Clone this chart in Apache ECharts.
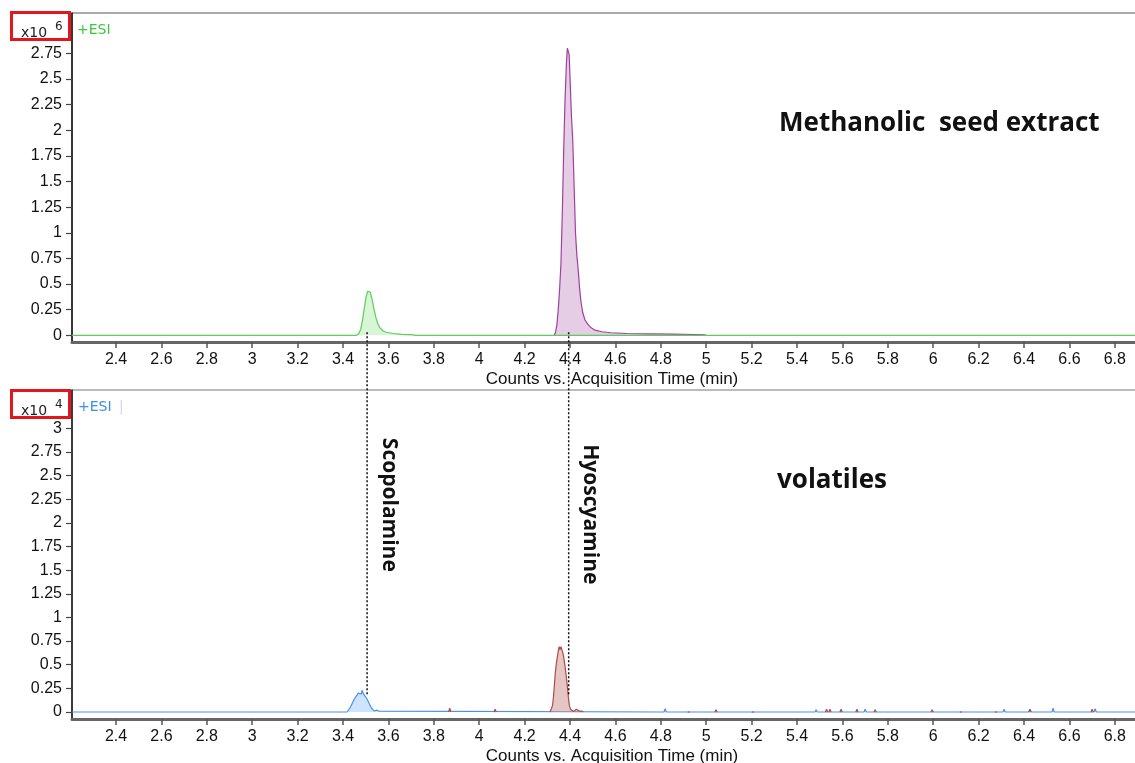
<!DOCTYPE html>
<html>
<head>
<meta charset="utf-8">
<script src="https://cdn.jsdelivr.net/npm/echarts@6/dist/echarts.min.js"></script>
<style>
html,body{margin:0;padding:0;background:#fff;}
#c{width:1135px;height:763px;}
</style>
</head>
<body>
<div id="c"></div>
<script>
// ---------- data ----------
const xTicks = [2.4,2.6,2.8,3,3.2,3.4,3.6,3.8,4,4.2,4.4,4.6,4.8,5,5.2,5.4,5.6,5.8,6,6.2,6.4,6.6,6.8];
const topYTicks = [0,0.25,0.5,0.75,1,1.25,1.5,1.75,2,2.25,2.5,2.75];
const botYTicks = [0,0.25,0.5,0.75,1,1.25,1.5,1.75,2,2.25,2.5,2.75,3];
const xRange = [2.206, 6.902];

// Methanolic seed extract (x10^6)
const scopTopTime = [3.460,3.470,3.478,3.486,3.494,3.502,3.509,3.514,3.520,3.528,3.536,3.544,3.552,3.562,3.575,3.590,3.620,3.660,3.710,3.720];
const scopTopVal  = [0,0.02,0.06,0.15,0.27,0.38,0.43,0.44,0.42,0.35,0.26,0.18,0.12,0.075,0.045,0.03,0.018,0.01,0.005,0];
const hyosTopTime = [4.330,4.336,4.342,4.348,4.354,4.360,4.366,4.372,4.378,4.384,4.388,4.392,4.396,4.401,4.406,4.412,4.418,4.424,4.430,4.436,4.442,4.448,4.456,4.466,4.478,4.490,4.510,4.540,4.580,4.650,4.750,4.850,4.950,4.990,5.000];
const hyosTopVal  = [0,0.03,0.1,0.25,0.45,0.7,1.2,1.8,2.3,2.65,2.80,2.80,2.74,2.45,2.15,1.9,1.45,1.0,0.78,0.64,0.46,0.33,0.22,0.15,0.11,0.08,0.05,0.035,0.025,0.018,0.014,0.011,0.008,0.005,0];

// volatiles (x10^4)
const scopBotTime = [3.418,3.425,3.432,3.438,3.443,3.448,3.452,3.456,3.460,3.464,3.468,3.472,3.476,3.480,3.484,3.488,3.492,3.496,3.500,3.505,3.510,3.515,3.520,3.526,3.532,3.538,3.543,3.548,3.553,3.558,3.565];
const scopBotVal  = [0,0.02,0.05,0.08,0.10,0.13,0.12,0.16,0.18,0.16,0.20,0.19,0.21,0.19,0.23,0.20,0.21,0.17,0.18,0.14,0.12,0.09,0.07,0.04,0.02,0.01,0.03,0.02,0.03,0.01,0];
const hyosBotTime = [4.312,4.318,4.323,4.327,4.331,4.335,4.340,4.344,4.348,4.352,4.356,4.360,4.364,4.368,4.372,4.377,4.381,4.385,4.389,4.393,4.397,4.402,4.407,4.415,4.422,4.428,4.434,4.440,4.446,4.452,4.458];
const hyosBotVal  = [0,0.02,0.07,0.16,0.28,0.41,0.52,0.58,0.64,0.69,0.66,0.69,0.66,0.63,0.58,0.50,0.42,0.34,0.25,0.15,0.07,0.03,0.01,0.005,0.02,0.03,0.02,0.01,0.02,0.01,0];
const blueBlipTime = [2.532,2.999,4.819,5.484,5.700,6.312,6.426,6.528,6.713];
const blueBlipVal  = [0.02,0.02,0.035,0.025,0.03,0.03,0.03,0.04,0.035];
const redBlipTime  = [3.870,4.070,4.923,5.043,5.206,5.530,5.545,5.594,5.664,5.744,5.995,6.122,6.277,6.426,6.700];
const redBlipVal   = [0.04,0.03,0.02,0.025,0.02,0.03,0.03,0.03,0.03,0.025,0.025,0.02,0.02,0.03,0.03];

// ---------- build series data ----------
const BLIP_HALF = 0.005;
function pairs(t, v){ return t.map((x,i)=>[x, v[i]]); }
function blips(t, v){ const out=[]; t.forEach((x,i)=>{ out.push([x-BLIP_HALF,0],[x,v[i]],[x+BLIP_HALF,0]); }); return out; }
function blipsBroken(t, v){ const out=[]; t.forEach((x,i)=>{ out.push([x-BLIP_HALF,0],[x,v[i]],[x+BLIP_HALF,0],[x+BLIP_HALF*1.5,'-']); }); return out; }
function withBaseline(pts){ return [[xRange[0],0]].concat(pts,[[xRange[1],0]]).sort((a,b)=>a[0]-b[0]); }

const greenData  = withBaseline(pairs(scopTopTime, scopTopVal));
const purpleData = pairs(hyosTopTime, hyosTopVal);
const blueData   = withBaseline(pairs(scopBotTime, scopBotVal).concat(blips(blueBlipTime, blueBlipVal)));
const hyosBotPts = pairs(hyosBotTime, hyosBotVal);
const redData    = hyosBotPts.concat([[hyosBotTime[hyosBotTime.length-1]+0.001,'-']], blipsBroken(redBlipTime, redBlipVal)).sort((a,b)=>a[0]-b[0]);

const AX_FONT = 'Liberation Sans, Arial, sans-serif';
const SMALL_FONT = 'DejaVu Sans, Verdana, sans-serif';

function xAxisCfg(gi){
  return {
    type:'value', gridIndex:gi, min:xRange[0], max:xRange[1],
    axisLine:{show:true, onZero:false, lineStyle:{color:'#666', width:3}},
    axisTick:{show:true, customValues:xTicks, length:6, lineStyle:{color:'#555', width:1.5}},
    axisLabel:{customValues:xTicks, margin:10, fontSize:16, color:'#111', fontFamily:AX_FONT, formatter:v=>String(v)},
    splitLine:{show:false},
    name:'Counts vs. Acquisition Time (min)', nameLocation:'middle', nameGap:29,
    nameTextStyle:{fontSize:17, color:'#111', fontFamily:AX_FONT, padding:[0,0,0,14]}
  };
}
function yAxisCfg(gi, min, max, ticks){
  return {
    type:'value', gridIndex:gi, min:min, max:max,
    axisLine:{show:true, onZero:false, lineStyle:{color:'#111', width:1.5}},
    axisTick:{show:true, customValues:ticks, length:6, lineStyle:{color:'#444', width:1.2}},
    axisLabel:{customValues:ticks, margin:10, fontSize:16, color:'#111', fontFamily:AX_FONT, formatter:v=>String(v)},
    splitLine:{show:false}
  };
}
function lineSeries(name, xi, data, line, fill, z){
  return {
    name:name, type:'line', xAxisIndex:xi, yAxisIndex:xi, data:data,
    symbol:'none', smooth:false, z:z, connectNulls:false,
    lineStyle:{color:line, width:1.2},
    areaStyle:{color:fill, origin:0},
    silent:true
  };
}

const chart = echarts.init(document.getElementById('c'), null, {renderer:'canvas'});
chart.setOption({
  animation:false,
  backgroundColor:'#fff',
  grid:[
    {left:72, top:13, width:1066, height:329, outerBoundsMode:'none', containLabel:false, show:true, borderColor:'#555', borderWidth:1, backgroundColor:'transparent'},
    {left:72, top:390, width:1066, height:329, outerBoundsMode:'none', containLabel:false, show:true, borderColor:'#777', borderWidth:1, backgroundColor:'transparent'}
  ],
  xAxis:[xAxisCfg(0), xAxisCfg(1)],
  yAxis:[yAxisCfg(0,-0.065,3.144,topYTicks), yAxisCfg(1,-0.074,3.404,botYTicks)],
  series:[
    lineSeries('Hyoscyamine (extract)',0,purpleData,'#a03fa0','rgba(205,160,205,0.75)',2),
    lineSeries('Scopolamine (extract)',0,greenData,'#5ccc5c','rgba(175,235,170,0.7)',3),
    lineSeries('Scopolamine (volatiles)',1,blueData,'#4a90ec','rgba(160,205,250,0.75)',2),
    lineSeries('Hyoscyamine (volatiles)',1,redData,'#b04a4a','rgba(208,145,145,0.75)',3)
  ]
});

// ---------- annotations positioned through the axes ----------
const scopLineT = 3.506, hyosLineT = 4.394;
function p(gi, x, y){ return chart.convertToPixel({xAxisIndex:gi, yAxisIndex:gi}, [x,y]); }
const s0 = p(0, scopLineT, 0.03), s1 = p(1, scopLineT, 0.18);
const h0 = p(0, hyosLineT, 0.03), h1 = p(1, hyosLineT, 0.18);
const sLab = p(1, scopLineT, 2.19), hLab = p(1, hyosLineT, 2.09);
const LABEL_FONT = 'Open Sans, Noto Sans, sans-serif';

function boxAndExp(top, exp){
  return [
    {type:'rect', shape:{x:11.5, y:top+1.5, width:58, height:27}, style:{fill:'none', stroke:'#e3161b', lineWidth:3}, z:100},
    {type:'text', x:21, y:top+22, style:{text:'x10', fontSize:14, fontFamily:SMALL_FONT, fill:'#222', align:'left', verticalAlign:'middle'}, z:101},
    {type:'text', x:55, y:top+16, style:{text:exp, fontSize:12, fontFamily:SMALL_FONT, fill:'#222', align:'left', verticalAlign:'middle'}, z:101}
  ];
}

chart.setOption({
  graphic:[].concat(
    boxAndExp(11, '6'),
    boxAndExp(389, '4'),
    [
      {type:'text', x:77, y:30, style:{text:'+ESI', fontSize:14, fontFamily:SMALL_FONT, fill:'#3cc83c', align:'left', verticalAlign:'middle'}, z:101},
      {type:'text', x:78, y:407, style:{text:'+ESI', fontSize:14, fontFamily:SMALL_FONT, fill:'#3a8ee8', align:'left', verticalAlign:'middle'}, z:101},
      {type:'text', x:119, y:407, style:{text:'|', fontSize:14, fontFamily:SMALL_FONT, fill:'#e4cdf0', align:'left', verticalAlign:'middle'}, z:101},
      {type:'line', shape:{x1:s0[0], y1:s0[1], x2:s1[0], y2:s1[1]}, style:{stroke:'#111', lineWidth:1.5, lineDash:[2,2]}, z:120},
      {type:'line', shape:{x1:h0[0], y1:h0[1], x2:h1[0], y2:h1[1]}, style:{stroke:'#111', lineWidth:1.5, lineDash:[2,2]}, z:120},
      {type:'text', x:sLab[0]+22, y:sLab[1], rotation:-Math.PI/2, style:{text:'Scopolamine', fontSize:21, fontWeight:'bold', fontFamily:LABEL_FONT, fill:'#111', align:'center', verticalAlign:'middle'}, z:110},
      {type:'text', x:hLab[0]+21, y:hLab[1], rotation:-Math.PI/2, style:{text:'Hyoscyamine', fontSize:21, fontWeight:'bold', fontFamily:LABEL_FONT, fill:'#111', align:'center', verticalAlign:'middle'}, z:110},
      {type:'text', x:779, y:124, style:{text:'Methanolic  seed extract', fontSize:26, fontWeight:'bold', fontFamily:LABEL_FONT, fill:'#111', align:'left', verticalAlign:'middle'}, z:110},
      {type:'text', x:777, y:481, style:{text:'volatiles', fontSize:26, fontWeight:'bold', fontFamily:LABEL_FONT, fill:'#111', align:'left', verticalAlign:'middle'}, z:110}
    ]
  )
});
</script>
</body>
</html>
